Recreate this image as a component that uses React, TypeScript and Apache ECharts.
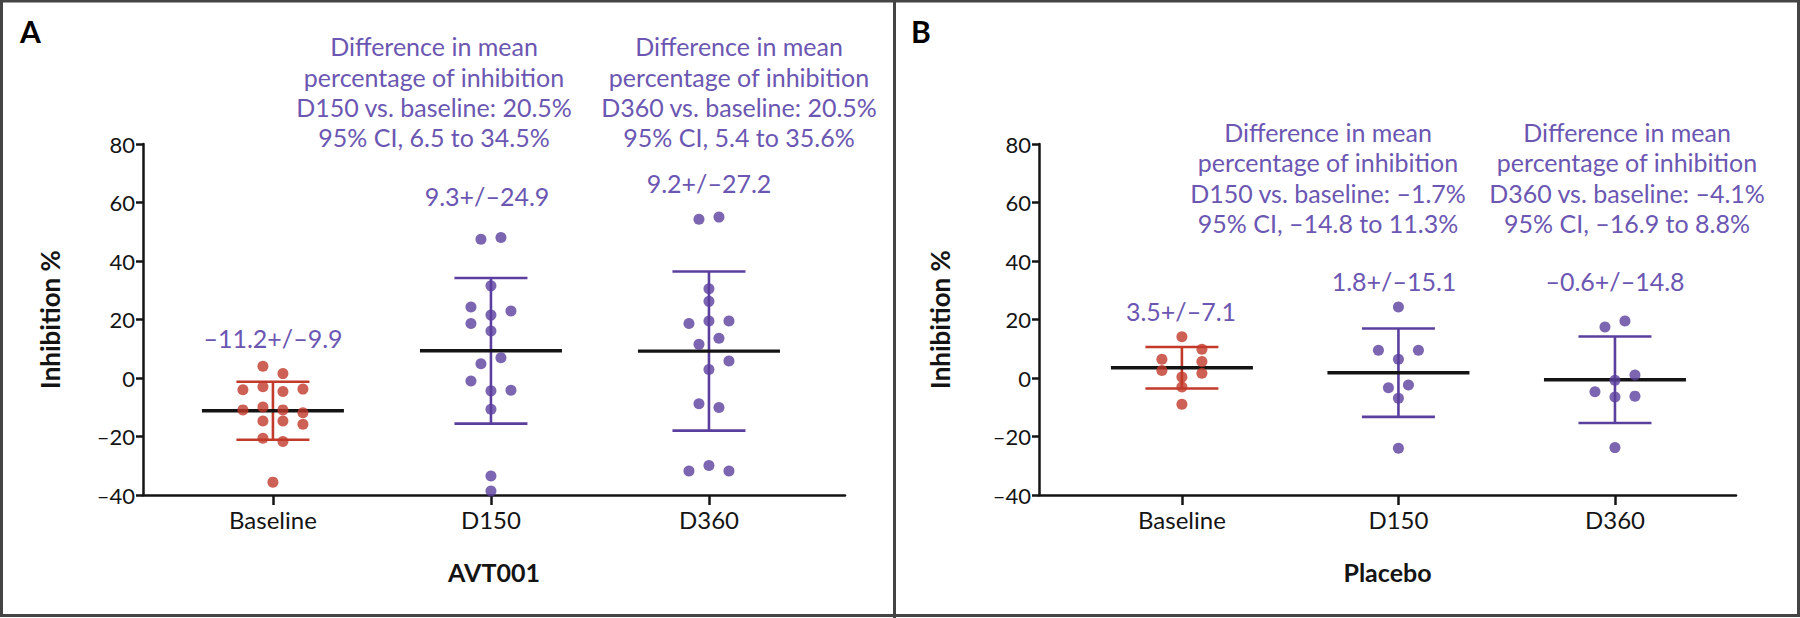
import React, { useEffect, useRef } from "react";
import * as echarts from "echarts";

// ---------- DATA ----------
const categories = ["Baseline", "D150", "D360"];

// Panel A (AVT001): individual values, and swarm column (in dot-steps) of each point
const aBaseline = [4.0, 1.5, -4.0, -3.0, -4.6, -3.8, -10.9, -9.9, -10.9, -11.9, -14.7, -14.7, -15.8, -20.6, -21.7, -35.6];
const aBaselineCol = [-1, 1, -3, -1, 1, 3, -3, -1, 1, 3, -1, 1, 3, -1, 1, 0];
const aD150 = [47.4, 48.0, 31.5, 24.3, 22.9, 21.5, 18.6, 16.1, 6.9, 4.9, -1.0, -4.4, -4.2, -10.7, -33.5, -38.6];
const aD150Col = [-1, 1, 0, -2, 2, 0, -2, 0, 1, -1, -2, 0, 2, 0, 0, 0];
const aD360 = [54.3, 55.0, 30.5, 26.2, 18.6, 19.5, 19.5, 13.6, 11.5, 5.8, 2.9, -8.8, -10.1, -31.8, -29.9, -31.8];
const aD360Col = [-1, 1, 0, 0, -2, 0, 2, 1, -1, 2, 0, -1, 1, -2, 0, 2];
const aMeans = [-11.2, 9.3, 9.2];
const aSDs = [9.9, 24.9, 27.2];
const aDiff = [20.5, 20.5];
const aCiLow = [6.5, 5.4];
const aCiHigh = [34.5, 35.6];

// Panel B (Placebo)
const bBaseline = [14.1, 9.8, 6.4, 5.6, 2.6, 1.6, 0.3, -3.1, -9.0];
const bBaselineCol = [0, 2, -2, 2, -2, 2, 0, 0, 0];
const bD150 = [24.3, 9.5, 9.5, 6.4, -3.3, -2.4, -6.9, -24.0];
const bD150Col = [0, -2, 2, 0, -1, 1, 0, 0];
const bD360 = [17.4, 19.5, 1.0, -0.8, -4.7, -6.5, -6.2, -23.8];
const bD360Col = [-1, 1, 2, 0, -2, 0, 2, 0];
const bMeans = [3.5, 1.8, -0.6];
const bSDs = [7.1, 15.1, 14.8];
const bDiff = [-1.7, -4.1];
const bCiLow = [-14.8, -16.9];
const bCiHigh = [11.3, 8.8];

const yTicks = { min: -40, max: 80, step: 20 };

// ---------- STYLE ----------
const RED = "#C23A2A";
const PURPLE = "#5B3F9E";
const TEXT_PURPLE = "#6B57B2";
const INK = "#141414";
const FONT = "Lato";

const fmt = (v: number) => (v < 0 ? "\u2013" : "") + Math.abs(v).toFixed(1);

const panels = [
  {
    letter: "A",
    letterX: 20,
    name: "AVT001",
    left: 143,
    right: 845,
    xMin: -0.596,
    xMax: 2.624,
    yNameGap: 80,
    values: [aBaseline, aD150, aD360],
    cols: [aBaselineCol, aD150Col, aD360Col],
    means: aMeans,
    sds: aSDs,
    diff: aDiff,
    lo: aCiLow,
    hi: aCiHigh,
    meanLabelPos: [[273, 338], [487, 196], [709, 182.5]],
    diffPos: [[434, 31.3], [739, 31.3]],
  },
  {
    letter: "B",
    letterX: 911,
    name: "Placebo",
    left: 1039,
    right: 1736,
    xMin: -0.66,
    xMax: 2.559,
    yNameGap: 86,
    values: [bBaseline, bD150, bD360],
    cols: [bBaselineCol, bD150Col, bD360Col],
    means: bMeans,
    sds: bSDs,
    diff: bDiff,
    lo: bCiLow,
    hi: bCiHigh,
    meanLabelPos: [[1181, 311], [1394, 280.6], [1615, 280.6]],
    diffPos: [[1328, 117], [1627, 117]],
  },
];

function buildOption() {
  const grid: any[] = [];
  const xAxis: any[] = [];
  const yAxis: any[] = [];
  const series: any[] = [];
  const graphic: any[] = [];

  panels.forEach((p, g) => {
    grid.push({ left: p.left, top: 144, width: p.right - p.left, height: 351, containLabel: false });
    xAxis.push({
      type: "value",
      gridIndex: g,
      min: p.xMin,
      max: p.xMax,
      axisLine: { show: true, onZero: false, lineStyle: { color: INK, width: 2.5 } },
      axisTick: { show: true, customValues: [0, 1, 2], length: 10, lineStyle: { color: INK, width: 2.5 } },
      axisLabel: {
        customValues: [0, 1, 2],
        formatter: (v: number) => categories[Math.round(v)],
        fontFamily: FONT,
        fontSize: 24,
        color: INK,
        margin: 12,
      },
      splitLine: { show: false },
      name: p.name,
      nameLocation: "middle",
      nameGap: 64,
      nameTextStyle: { fontFamily: FONT, fontSize: 25, fontWeight: "bold", color: INK },
    });
    yAxis.push({
      type: "value",
      gridIndex: g,
      min: yTicks.min,
      max: yTicks.max,
      interval: yTicks.step,
      axisLine: { show: true, onZero: false, lineStyle: { color: INK, width: 2.5 } },
      axisTick: { show: true, length: 7, lineStyle: { color: INK, width: 2.5 } },
      axisLabel: {
        fontFamily: FONT,
        fontSize: 22,
        color: INK,
        margin: 8,
        formatter: (v: number) => (v < 0 ? "\u2013" + Math.abs(v) : String(v)),
      },
      splitLine: { show: false },
      name: "Inhibition %",
      nameLocation: "middle",
      nameGap: p.yNameGap,
      nameRotate: 90,
      nameTextStyle: { fontFamily: FONT, fontSize: 26, fontWeight: "bold", color: INK },
    });

    // mean +/- SD bars
    series.push({
      type: "custom",
      xAxisIndex: g,
      yAxisIndex: g,
      z: 2,
      data: p.means.map((m, i) => [i, m, p.sds[i]]),
      renderItem: (params: any, api: any) => {
        const x = api.value(0);
        const m = api.value(1);
        const s = api.value(2);
        const c = api.coord([x, m]);
        const t = api.coord([x, m + s]);
        const b = api.coord([x, m - s]);
        const col = x === 0 ? RED : PURPLE;
        const capHalf = 36.5;
        const meanHalf = 71;
        return {
          type: "group",
          children: [
            { type: "line", shape: { x1: t[0], y1: t[1], x2: b[0], y2: b[1] }, style: { stroke: col, lineWidth: 2.6 } },
            { type: "line", shape: { x1: t[0] - capHalf, y1: t[1], x2: t[0] + capHalf, y2: t[1] }, style: { stroke: col, lineWidth: 2.6 } },
            { type: "line", shape: { x1: b[0] - capHalf, y1: b[1], x2: b[0] + capHalf, y2: b[1] }, style: { stroke: col, lineWidth: 2.6 } },
            { type: "line", shape: { x1: c[0] - meanHalf, y1: c[1], x2: c[0] + meanHalf, y2: c[1] }, style: { stroke: INK, lineWidth: 3.4 } },
          ],
        };
      },
    });

    // individual points
    const pts: any[] = [];
    p.values.forEach((arr, i) => {
      arr.forEach((v, k) => {
        pts.push({
          value: [i, v],
          symbolOffset: [p.cols[i][k] * 10, 0],
          itemStyle: { color: i === 0 ? RED : PURPLE },
        });
      });
    });
    series.push({
      type: "scatter",
      xAxisIndex: g,
      yAxisIndex: g,
      z: 3,
      symbol: "circle",
      symbolSize: 11,
      data: pts,
    });

    // panel letter
    graphic.push({
      type: "text",
      x: p.letterX,
      y: 31,
      style: { text: p.letter, fontFamily: FONT, fontSize: 30, fontWeight: "bold", fill: "#000", align: "left", verticalAlign: "middle" },
    });

    // mean +/- SD labels
    p.means.forEach((m, i) => {
      graphic.push({
        type: "text",
        x: p.meanLabelPos[i][0],
        y: p.meanLabelPos[i][1],
        style: {
          text: `${fmt(m)}+/\u2013${p.sds[i].toFixed(1)}`,
          fontFamily: FONT,
          fontSize: 25,
          fill: TEXT_PURPLE,
          align: "center",
          verticalAlign: "middle",
        },
      });
    });

    // difference annotations
    p.diff.forEach((d, j) => {
      const day = categories[j + 1];
      const lines = [
        "Difference in mean",
        "percentage of inhibition",
        `${day} vs. baseline: ${fmt(d)}%`,
        `95% CI, ${fmt(p.lo[j])} to ${fmt(p.hi[j])}%`,
      ];
      graphic.push({
        type: "text",
        x: p.diffPos[j][0],
        y: p.diffPos[j][1],
        style: {
          text: lines.join("\n"),
          fontFamily: FONT,
          fontSize: 25,
          lineHeight: 30.3,
          fill: TEXT_PURPLE,
          align: "center",
          verticalAlign: "top",
        },
      });
    });
  });

  // frame
  graphic.push({
    type: "rect",
    shape: { x: 1.5, y: 1, width: 1797, height: 614.5 },
    style: { fill: "none", stroke: "#444", lineWidth: 3 },
  });
  graphic.push({
    type: "line",
    shape: { x1: 894.5, y1: 0, x2: 894.5, y2: 618 },
    style: { stroke: "#444", lineWidth: 3 },
  });

  return {
    animation: false,
    backgroundColor: "#fff",
    textStyle: { fontFamily: FONT },
    grid,
    xAxis,
    yAxis,
    series,
    graphic,
  };
}

export default function App() {
  const ref = useRef<HTMLDivElement>(null);
  useEffect(() => {
    if (!ref.current) return;
    const chart = echarts.init(ref.current, undefined, { renderer: "svg" });
    chart.setOption(buildOption() as any);
    return () => chart.dispose();
  }, []);
  return (
    <div
      ref={ref}
      style={{ position: "fixed", left: 0, top: 0, width: 1800, height: 618, background: "#fff" }}
    />
  );
}
